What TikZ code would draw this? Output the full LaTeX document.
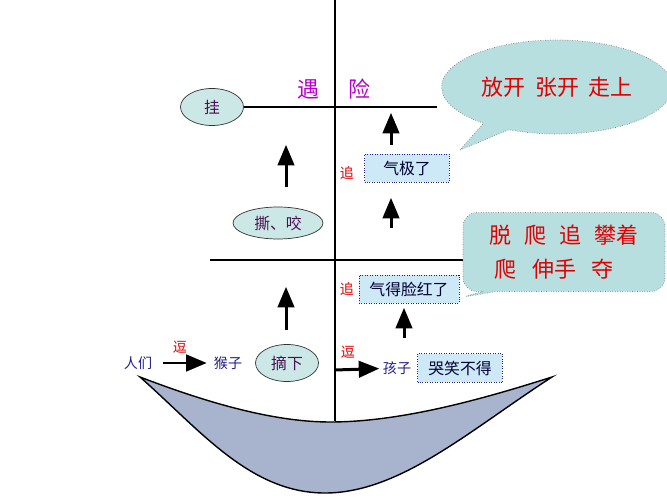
\documentclass[tikz,border=0pt]{standalone}
\usepackage{fontspec}
\setmainfont{Noto Sans CJK SC}
\usetikzlibrary{arrows,shapes.geometric,shapes.callouts}

\definecolor{tealfill}{RGB}{204,232,230}
\definecolor{boxfill}{RGB}{205,232,246}
\definecolor{hullfill}{RGB}{168,180,206}
\definecolor{redtxt}{RGB}{225,0,0}
\definecolor{magtxt}{RGB}{185,0,205}
\definecolor{bluetxt}{RGB}{35,30,135}
\definecolor{purptxt}{RGB}{75,15,85}
\definecolor{bubblefill}{RGB}{184,223,223}

\tikzset{
  oval/.style={ellipse,draw=black!80,fill=tealfill,text=purptxt,font=\fontsize{9}{10}\selectfont,
    minimum width=1.26cm,minimum height=0.74cm,inner sep=0pt},
  mood/.style={draw=bluetxt,densely dotted,fill=boxfill,text=black!80!blue,font=\fontsize{9}{10}\selectfont,
    minimum height=0.56cm,inner sep=0pt},
  who/.style={text=bluetxt,font=\fontsize{8}{10}\selectfont,inner sep=2pt},
  act/.style={text=redtxt,font=\fontsize{8}{10}\selectfont,inner sep=0pt},
  big/.style={font=\fontsize{12.5}{15}\selectfont},
  arr/.style={-triangle 45,line width=0.6mm},
}

\begin{document}
\begin{tikzpicture}[x=0.02cm,y=-0.02cm]
\useasboundingbox (0,0) rectangle (667,500);

%Hull
\draw[fill=hullfill,line width=0.8pt] (140,377) .. controls (200,400) and (270,422) .. (330,422)
  .. controls (400,422) and (480,400) .. (552,377)
  .. controls (470,430) and (400,493) .. (325,493)
  .. controls (250,493) and (200,430) .. (140,377) -- cycle;

%Mast and yards
\coordinate (masttop) at (335,0);
\coordinate (mastfoot) at (335,421);
\draw[line width=0.8pt] (masttop) -- (mastfoot);

\node[oval] (gua) at (212,107) {挂};
\coordinate (yard1R) at (437,107);
\draw[line width=0.8pt] (gua.east) -- (yard1R);
\node[big,text=magtxt] (yu) at (308,89) {遇};
\node[big,text=magtxt] (xian) at (359,89) {险};

\coordinate (yard2L) at (210,260);
\coordinate (yard2R) at (463,260);
\draw[line width=0.8pt] (yard2L) -- (yard2R);

%Left side
\node[oval,minimum width=1.8cm,minimum height=0.64cm] (sy) at (278,223) {撕、咬};
\coordinate (a1s) at (286,187);
\coordinate (a1e) at (286,145);
\draw[arr] (a1s) -- (a1e);
\coordinate (a2s) at (286,330);
\coordinate (a2e) at (286,287);
\draw[arr] (a2s) -- (a2e);

%Right side
\node[mood,minimum width=1.7cm] (qj) at (407,168) {气极了};
\node[act] (zhui1) at (347,173) {追};
\coordinate (a3s) at (391,145);
\coordinate (a3e) at (391,113);
\draw[arr] (a3s) -- (a3e);
\coordinate (a4s) at (391,228);
\coordinate (a4e) at (391,198);
\draw[arr] (a4s) -- (a4e);

\node[mood,minimum width=2cm] (qd) at (409,289) {气得脸红了};
\node[act] (zhui2) at (347,289) {追};
\coordinate (a5s) at (404,338);
\coordinate (a5e) at (404,308);
\draw[arr] (a5s) -- (a5e);

%Bottom row
\node[who] (ren) at (138,363) {人们};
\node[act] (dou1) at (180,347) {逗};
\node[who] (hou) at (228,363) {猴子};
\draw[arr,shorten <=4pt,shorten >=2pt] (ren) -- (hou);
\node[oval] (zhai) at (287,363) {摘下};

\node[act] (dou2) at (348,352) {逗};
\coordinate (m3) at (335,370);
\node[who] (hai) at (397,368) {孩子};
\draw[arr] (m3) -- (hai);
\node[mood,minimum width=1.7cm,minimum height=0.58cm] (kx) at (460,368) {哭笑不得};

%Callouts
\coordinate (tip1) at (460,150);
\node[ellipse callout,callout absolute pointer={(tip1)},draw=gray,densely dotted,fill=bubblefill,
  minimum width=4.4cm,minimum height=1.88cm,text=redtxt,big] (say1) at (557,87) {放开\ \ 张开\ \ 走上};
\coordinate (tip2) at (458,298);
\node[rectangle callout,callout absolute pointer={(tip2)},rounded corners=8pt,draw=gray,densely dotted,
  fill=bubblefill,minimum width=4.04cm,minimum height=1.58cm,text=redtxt,big,align=left] (say2) at (564,252)
  {脱\hspace{0.6em}爬\hspace{0.6em}追\hspace{0.6em}攀着\\[4pt]
   \hspace{0.25em}爬\hspace{0.7em}伸手\hspace{0.7em}夺};
\end{tikzpicture}
\end{document}
